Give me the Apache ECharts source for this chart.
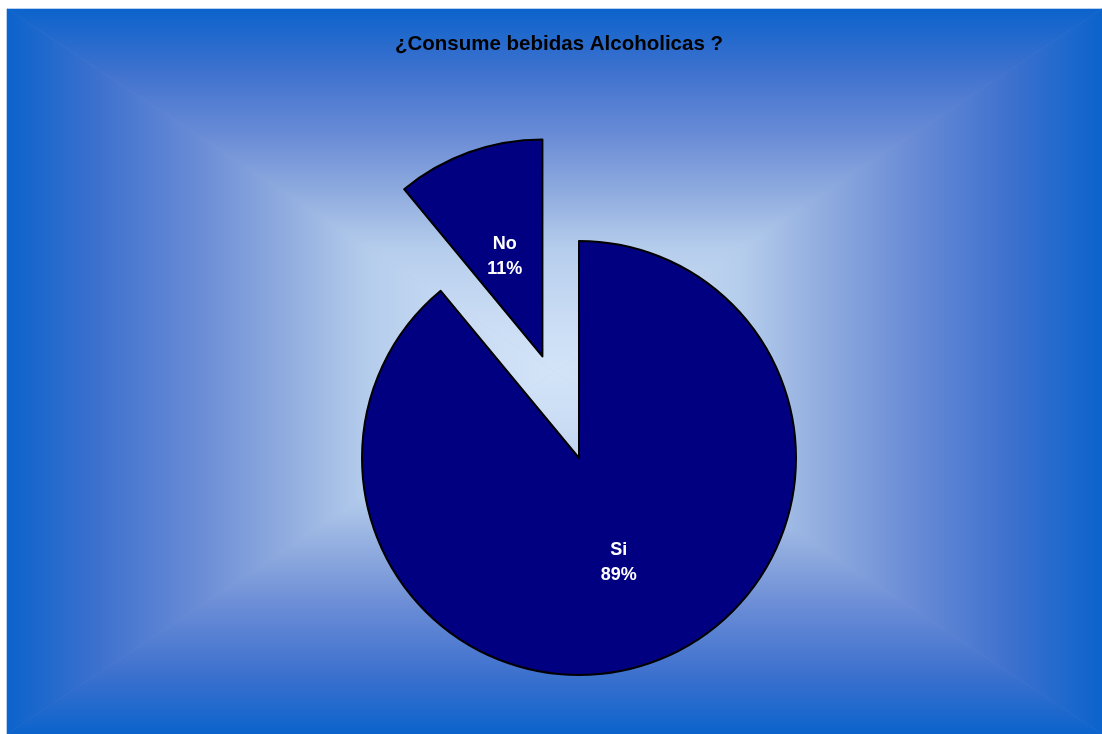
<!DOCTYPE html>
<html>
<head>
<meta charset="utf-8">
<script src="https://cdn.jsdelivr.net/npm/echarts@6/dist/echarts.min.js"></script>
<style>
  html, body { margin: 0; padding: 0; background: #ffffff; }
  #chart { width: 1102px; height: 734px; }
</style>
</head>
<body>
<div id="chart"></div>
<script>
// Survey answers
const categories = ['Si', 'No'];
const percentages = [89, 11];
const titleText = '¿Consume bebidas Alcoholicas ?';

const FONT = '"Liberation Sans", Arial, sans-serif';
const PIE_CENTER = [579, 458];
const PIE_RADIUS = 217;

// Per-slice label tweaks: the big slice's label sits right of the centre
// line, the small slice's label gets a thin spacer line above it.
const labelTweaks = {
  Si: { padding: [0, 0, 0, 4], formatter: '{b}\n{d}%' },
  No: { padding: [0, 0, 0, 0], formatter: '{gap|}\n{b}\n{d}%' }
};

// Plot-area box with a rectangular "from centre" gradient
const box = { x0: 7, y0: 9, x1: 1102, y1: 734 };
const cx = (box.x0 + box.x1) / 2;
const cy = (box.y0 + box.y1) / 2;

const edgeToCentre = [
  { offset: 0.00, color: '#0b63cc' },
  { offset: 0.17, color: '#3e71ce' },
  { offset: 0.35, color: '#6a8cd6' },
  { offset: 0.50, color: '#8eaade' },
  { offset: 0.66, color: '#b5cdec' },
  { offset: 0.85, color: '#cadcf4' },
  { offset: 1.00, color: '#d3e4f8' }
];
function grad(x, y, x2, y2) {
  return new echarts.graphic.LinearGradient(x, y, x2, y2, edgeToCentre);
}
function tri(points, fill) {
  return { type: 'polygon', z: 0, silent: true,
           shape: { points: points },
           style: { fill: fill, stroke: fill, lineWidth: 0.6 } };
}

const chart = echarts.init(document.getElementById('chart'), null, { renderer: 'canvas' });

const option = {
  animation: false,
  backgroundColor: '#ffffff',
  graphic: {
    elements: [
      { type: 'rect', z: 0, silent: true,
        shape: { x: box.x0, y: box.y0, width: box.x1 - box.x0, height: box.y1 - box.y0 },
        style: { fill: '#8eaade' } },
      tri([[box.x0, box.y0], [box.x1, box.y0], [cx, cy]], grad(0, 0, 0, 1)),
      tri([[box.x0, box.y1], [box.x1, box.y1], [cx, cy]], grad(0, 1, 0, 0)),
      tri([[box.x0, box.y0], [box.x0, box.y1], [cx, cy]], grad(0, 0, 1, 0)),
      tri([[box.x1, box.y0], [box.x1, box.y1], [cx, cy]], grad(1, 0, 0, 0)),
      { type: 'text', z: 10, silent: true,
        style: { x: 559, y: 44, text: titleText, align: 'center', verticalAlign: 'middle',
                 fill: '#000000', font: 'bold 20.5px ' + FONT } }
    ]
  },
  series: [{
    type: 'pie',
    center: PIE_CENTER,
    radius: PIE_RADIUS,
    startAngle: 90,
    clockwise: true,
    selectedMode: 'single',
    selectedOffset: 108,
    emphasis: { disabled: true },
    itemStyle: { color: '#000080', borderColor: '#000000', borderWidth: 2 },
    label: {
      show: true,
      position: 'inside',
      formatter: '{b}\n{d}%',
      color: '#ffffff',
      fontFamily: FONT,
      fontWeight: 'bold',
      fontSize: 18,
      lineHeight: 25,
      align: 'center',
      rich: {
        gap: { fontSize: 1, lineHeight: 10 }
      }
    },
    labelLine: { show: false },
    data: categories.map((name, i) => ({
      name: name,
      value: percentages[i],
      selected: name === 'No',
      label: labelTweaks[name]
    }))
  }]
};

chart.setOption(option);
</script>
</body>
</html>
